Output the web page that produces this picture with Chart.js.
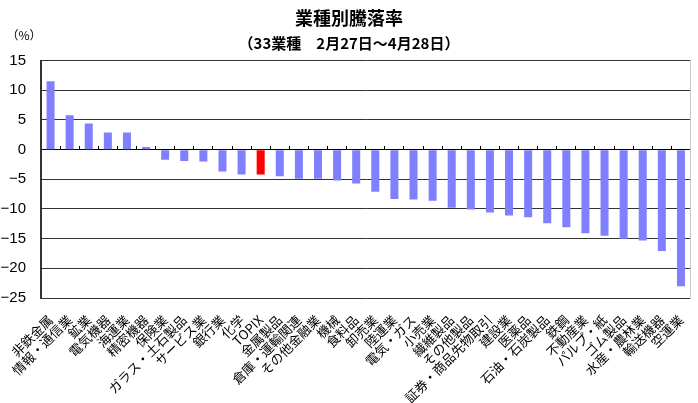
<!DOCTYPE html>
<html>
<head>
<meta charset="utf-8">
<script src="https://cdn.jsdelivr.net/npm/chart.js@4"></script>
<style>
  body { margin: 0; background: #fff; }
  #wrap { width: 698px; height: 403px; }
</style>
</head>
<body>
<div id="wrap"><canvas id="chart"></canvas></div>
<script>
// 業種 (33業種 + TOPIX)
const categories = [
    '非鉄金属', '情報・通信業', '鉱業', '電気機器', '海運業', '精密機器', '保険業',
    'ガラス・土石製品', 'サービス業', '銀行業', '化学', 'TOPIX', '金属製品',
    '倉庫・運輸関連', 'その他金融業', '機械', '食料品', '卸売業', '陸運業',
    '電気・ガス', '小売業', '繊維製品', 'その他製品', '証券・商品先物取引',
    '建設業', '医薬品', '石油・石炭製品', '鉄鋼', '不動産業', 'パルプ・紙',
    'ゴム製品', '水産・農林業', '輸送機器', '空運業'
]
// 騰落率 (%)
const changes = [
    11.5, 5.8, 4.4, 2.9, 2.9, 0.45, -1.7,
    -1.9, -2.0, -3.7, -4.2, -4.2, -4.5,
    -4.9, -4.9, -5.2, -5.7, -7.1, -8.3,
    -8.4, -8.6, -9.8, -10.1, -10.6,
    -11.1, -11.4, -12.4, -13.1, -14.1, -14.5,
    -15.0, -15.3, -17.1, -23.0
]
const yTicks = [15, 10, 5, 0, -5, -10, -15, -20, -25]

const cjk = '"Noto Sans CJK JP", sans-serif'

// (%) unit label above the y axis
const unitLabel = {
    id: 'unitLabel',
    afterDraw: (chart) => {
        const ctx = chart.ctx
        ctx.save()
        ctx.font = '12px ' + cjk
        ctx.fillStyle = '#000'
        ctx.textAlign = 'center'
        ctx.textBaseline = 'middle'
        ctx.fillText('（%）', chart.chartArea.left - 17, chart.chartArea.top - 25)
        ctx.restore()
    }
}

self.addEventListener('DOMContentLoaded', () => {
    new Chart(document.getElementById('chart'), {
        type: 'bar',
        data: {
            labels: categories,
            datasets: [{
                data: changes,
                backgroundColor: categories.map(c => c === 'TOPIX' ? '#ff0000' : '#8080ff'),
                borderWidth: 0,
                barPercentage: 0.42,
                categoryPercentage: 1
            }]
        },
        options: {
            responsive: true,
            maintainAspectRatio: false,
            animation: false,
            layout: { padding: { left: 0, right: 0, top: 0, bottom: 0 } },
            plugins: {
                legend: { display: false },
                tooltip: { enabled: false },
                title: {
                    display: true,
                    text: '業種別騰落率',
                    color: '#000',
                    font: { family: cjk, size: 18, weight: 'bold' },
                    padding: { top: 7, bottom: 6 }
                },
                subtitle: {
                    display: true,
                    text: '（33業種　2月27日～4月28日）',
                    color: '#000',
                    font: { family: cjk, size: 15, weight: 'bold' },
                    padding: { top: 0, bottom: 8 }
                }
            },
            scales: {
                x: {
                    position: 'bottom',
                    grid: { display: false },
                    border: { display: false },
                    ticks: {
                        autoSkip: false,
                        minRotation: 45,
                        maxRotation: 45,
                        padding: 6,
                        color: '#000',
                        font: { family: cjk, size: 13 }
                    },
                    afterFit: (s) => { s.height = 105 }
                },
                zero: {
                    type: 'category',
                    axis: 'x',
                    position: { y: 0 },
                    offset: true,
                    grid: {
                        drawOnChartArea: false,
                        drawTicks: true,
                        tickLength: -4,
                        color: '#000',
                        offset: true
                    },
                    border: { display: true, color: '#000', width: 1 },
                    ticks: { display: false },
                    afterFit: (s) => { s.height = 0 }
                },
                y: {
                    min: -25,
                    max: 15,
                    afterBuildTicks: (s) => { s.ticks = yTicks.map(v => ({ value: v })) },
                    grid: { color: '#333', lineWidth: 1, drawTicks: false },
                    border: { color: '#333', width: 2 },
                    ticks: {
                        padding: 15,
                        color: '#000',
                        font: { family: '"Liberation Sans", sans-serif', size: 15 },
                        callback: (v) => v < 0 ? '−' + Math.abs(v) : String(v)
                    },
                    afterFit: (s) => { s.width = 41 }
                },
                frame: {
                    axis: 'y',
                    position: 'right',
                    min: -25,
                    max: 15,
                    grid: { drawOnChartArea: false, drawTicks: false },
                    border: { color: '#c8c8c8', width: 1 },
                    ticks: { display: false },
                    afterFit: (s) => { s.width = 1 }
                }
            }
        },
        plugins: [unitLabel]
    })
})
</script>
</body>
</html>
